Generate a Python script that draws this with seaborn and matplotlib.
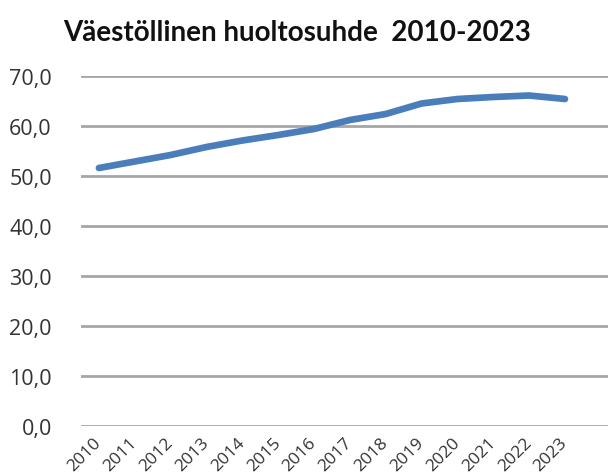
import matplotlib
matplotlib.use("Agg")
import matplotlib.pyplot as plt
import seaborn as sns
import pandas as pd

years = ["2010", "2011", "2012", "2013", "2014", "2015", "2016",
         "2017", "2018", "2019", "2020", "2021", "2022", "2023"]
values = [51.6, 52.9, 54.2, 55.8, 57.1, 58.2, 59.4,
          61.2, 62.4, 64.5, 65.4, 65.8, 66.1, 65.4]
title = "Väestöllinen huoltosuhde  2010-2023"

sns.set_theme(style="white")
plt.rcParams['font.family'] = ['Open Sans', 'DejaVu Sans']

df = pd.DataFrame({"year": years, "value": values})
df["pos"] = range(len(years))

fig = plt.figure(figsize=(6.08, 4.77), dpi=100)
ax = fig.add_axes([81/608, 1 - 427/477, 1 - 81/608, (427-77)/477])

for yv in range(0, 80, 10):
    ax.axhline(yv, color="#A6A6A6", lw=2.0, zorder=1)

sns.lineplot(data=df, x="pos", y="value", ax=ax, color="#4A7EBB",
             lw=4.8, solid_capstyle="round", zorder=3)

ax.set_ylim(0, 70)
ax.set_xlim(-0.5, 14.2)
ax.set_yticks(range(0, 80, 10))
ax.set_yticklabels([f"{v},0" for v in range(0, 80, 10)], fontsize=15.5, color="#333333")
ax.set_xticks(range(len(years)))
ax.set_xticklabels(years, rotation=45, ha="right", va="center", rotation_mode="anchor",
                   fontsize=12.5, color="#333333")
ax.tick_params(axis="x", length=0, pad=10)
ax.tick_params(axis="y", length=0, pad=21)
ax.set_xlabel("")
ax.set_ylabel("")
for s in ax.spines.values():
    s.set_visible(False)

fig.text(297/608, 1 - 33/477, title, ha="center", va="center",
         fontsize=20, fontweight="bold", color="#111111", family=["Lato", "DejaVu Sans"])

fig.savefig("out.png", dpi=100)
